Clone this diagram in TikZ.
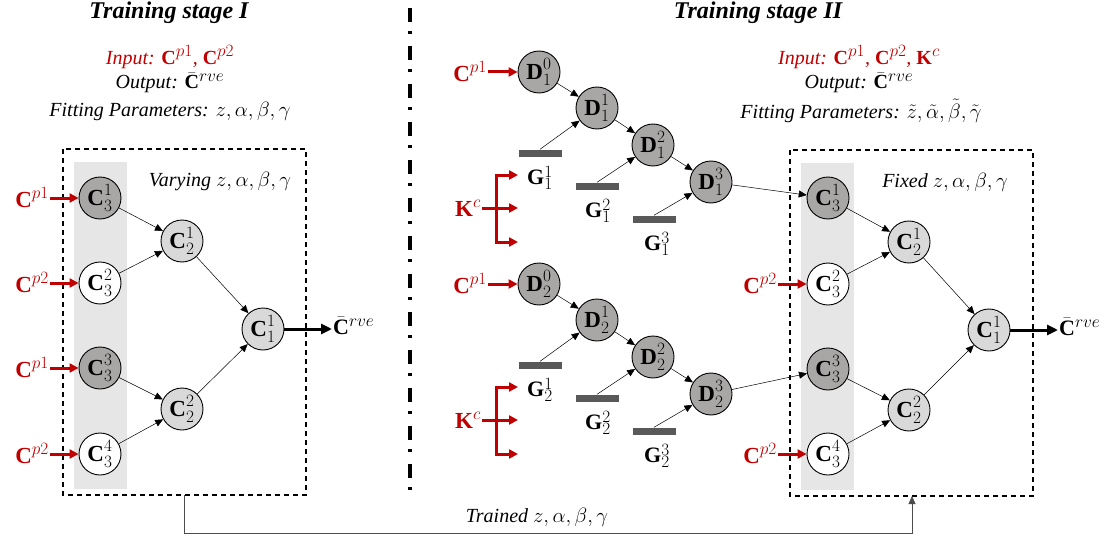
\documentclass[tikz,border=0pt]{standalone}
\usepackage{fontspec}
\setmainfont{Liberation Serif}
\usetikzlibrary{arrows.meta}
\DeclareMathSizes{20}{20}{16}{12}
\DeclareMathSizes{22}{22}{17.5}{13}
\DeclareMathSizes{23}{23}{18}{14}
\DeclareMathSizes{24}{24}{19}{14}
\definecolor{myred}{HTML}{C00000}
\definecolor{dgray}{HTML}{A9A6A6}
\definecolor{lgray}{HTML}{D9D9D9}
\definecolor{colgray}{HTML}{E6E6E6}
\definecolor{bargray}{HTML}{595959}
\begin{document}
\begin{tikzpicture}[x=1pt,y=-1pt,
  nd/.style={circle,draw=black,line width=0.9pt,minimum size=42pt,inner sep=0pt,font=\fontsize{23}{23}\selectfont},
  dk/.style={nd,fill=dgray},
  lt/.style={nd,fill=lgray},
  wt/.style={nd,fill=white},
  con/.style={-{Triangle[length=8pt,width=7pt]},line width=0.5pt},
  redarr/.style={-{Triangle[length=9pt,width=9pt]},line width=3pt,myred},
  outarr/.style={-{Triangle[length=11pt,width=10pt]},line width=3pt},
  redlab/.style={text=myred,font=\fontsize{23}{23}\selectfont,inner sep=1pt},
  blab/.style={font=\fontsize{22}{22}\selectfont,inner sep=1pt},
  bar/.style={fill=bargray,minimum width=43pt,minimum height=7pt,inner sep=0pt},
  hdr/.style={font=\fontsize{24}{24}\selectfont\bfseries\itshape},
  info/.style={font=\fontsize{20}{20}\selectfont\itshape,inner sep=1pt},
  boxd/.style={dashed,line width=1.1pt,dash pattern=on 5pt off 4pt}
]
\useasboundingbox (0,0) rectangle (1117,543);

% titles
\node[hdr] (t1) at (169,13) {Training stage I};
\node[hdr] (t2) at (758,13) {Training stage II};
\draw[line width=3.5pt,dash pattern=on 14pt off 9pt on 3pt off 12pt] (410,8) -- (410,495);

% info texts
\node[info,text=myred] (in1) at (170,57) {Input: $\mathbf{C}^{p1}$, $\mathbf{C}^{p2}$};
\node[info] (out1) at (170,83) {Output: $\bar{\mathbf{C}}^{rve}$};
\node[info] (fp1) at (170,111) {Fitting Parameters: $z,\alpha,\beta,\gamma$};
\node[info,text=myred] (in2) at (859,57) {Input: $\mathbf{C}^{p1}$, $\mathbf{C}^{p2}$, $\mathbf{K}^{c}$};
\node[info] (out2) at (859,83) {Output: $\bar{\mathbf{C}}^{rve}$};
\node[info] (fp2) at (861,111) {Fitting Parameters: $\tilde{z},\tilde{\alpha},\tilde{\beta},\tilde{\gamma}$};

% ===== Stage I =====
\fill[colgray] (74,162) rectangle (127,489);
\draw[boxd] (63,149) rectangle (306,495);
\coordinate (b1) at (184,495);
\node[info] (vary) at (220,181) {Varying $z,\alpha,\beta,\gamma$};

\node[dk] (a31) at (100,198) {$\mathbf{C}_3^1$};
\node[wt] (a32) at (100,283) {$\mathbf{C}_3^2$};
\node[dk] (a33) at (100,368) {$\mathbf{C}_3^3$};
\node[wt] (a34) at (100,454) {$\mathbf{C}_3^4$};
\node[lt] (a21) at (182,241) {$\mathbf{C}_2^1$};
\node[lt] (a22) at (182,409) {$\mathbf{C}_2^2$};
\node[lt] (a11) at (263,329) {$\mathbf{C}_1^1$};

\draw[con] (a31) -- (a21);
\draw[con] (a32) -- (a21);
\draw[con] (a33) -- (a22);
\draw[con] (a34) -- (a22);
\draw[con] (a21) -- (a11);
\draw[con] (a22) -- (a11);

\node[redlab,anchor=east] (ia1) at (50,198) {$\mathbf{C}^{p1}$};
\node[redlab,anchor=east] (ia2) at (50,283) {$\mathbf{C}^{p2}$};
\node[redlab,anchor=east] (ia3) at (50,368) {$\mathbf{C}^{p1}$};
\node[redlab,anchor=east] (ia4) at (50,454) {$\mathbf{C}^{p2}$};
\draw[redarr] (ia1) -- (a31);
\draw[redarr] (ia2) -- (a32);
\draw[redarr] (ia3) -- (a33);
\draw[redarr] (ia4) -- (a34);

\node[blab,anchor=west] (o1) at (332,326) {$\bar{\mathbf{C}}^{rve}$};
\draw[outarr] (a11) -- (o1.west|-a11);

% ===== Stage II chains =====
\foreach \k/\yo in {1/0,2/212}{
  \node[dk] (d\k0) at (539,72+\yo) {$\mathbf{D}_\k^0$};
  \node[dk] (d\k1) at (597,108+\yo) {$\mathbf{D}_\k^1$};
  \node[dk] (d\k2) at (653,145+\yo) {$\mathbf{D}_\k^2$};
  \node[dk] (d\k3) at (711,182+\yo) {$\mathbf{D}_\k^3$};
  \node[bar] (g\k1) at (540,153+\yo) {};
  \node[bar] (g\k2) at (597,186+\yo) {};
  \node[bar] (g\k3) at (654,219+\yo) {};
  \node[blab] (gl\k1) at (540,178+\yo) {$\mathbf{G}_\k^1$};
  \node[blab] (gl\k2) at (598,211+\yo) {$\mathbf{G}_\k^2$};
  \node[blab] (gl\k3) at (657,244+\yo) {$\mathbf{G}_\k^3$};
  \draw[con] (d\k0) -- (d\k1);
  \draw[con] (d\k1) -- (d\k2);
  \draw[con] (d\k2) -- (d\k3);
  \draw[con] (g\k1.north) -- (d\k1);
  \draw[con] (g\k2.north) -- (d\k2);
  \draw[con] (g\k3.north) -- (d\k3);
  \node[redlab,anchor=east] (cp\k) at (488,72+\yo) {$\mathbf{C}^{p1}$};
  \draw[redarr] (cp\k) -- (d\k0);
  \node[redlab,anchor=east] (k\k) at (482,208+\yo) {$\mathbf{K}^{c}$};
  \coordinate (kt\k) at (518,175+\yo);
  \coordinate (km\k) at (518,208+\yo);
  \coordinate (kb\k) at (518,242+\yo);
  \draw[myred,line width=3pt] (k\k.east) -- (496,208+\yo);
  \draw[redarr] (496,175+\yo) -- (kt\k);
  \draw[redarr] (496,208+\yo) -- (km\k);
  \draw[redarr] (496,242+\yo) -- (kb\k);
  \draw[myred,line width=3pt] (496,173.5+\yo) -- (496,243.5+\yo);
}

% ===== Stage II network =====
\fill[colgray] (801,163) rectangle (854,490);
\draw[boxd] (790,150) rectangle (1033,496);
\coordinate (b2) at (912,496);
\node[info] (fix) at (945,182) {Fixed $z,\alpha,\beta,\gamma$};

\node[dk] (c31) at (828,198) {$\mathbf{C}_3^1$};
\node[wt] (c32) at (828,284) {$\mathbf{C}_3^2$};
\node[dk] (c33) at (828,369) {$\mathbf{C}_3^3$};
\node[wt] (c34) at (828,454) {$\mathbf{C}_3^4$};
\node[lt] (c21) at (909,242) {$\mathbf{C}_2^1$};
\node[lt] (c22) at (909,410) {$\mathbf{C}_2^2$};
\node[lt] (c11) at (989,330) {$\mathbf{C}_1^1$};

\draw[con] (c31) -- (c21);
\draw[con] (c32) -- (c21);
\draw[con] (c33) -- (c22);
\draw[con] (c34) -- (c22);
\draw[con] (c21) -- (c11);
\draw[con] (c22) -- (c11);

\draw[con] (d13) -- (c31);
\draw[con] (d23) -- (c33);

\node[redlab,anchor=east] (ib2) at (778,284) {$\mathbf{C}^{p2}$};
\node[redlab,anchor=east] (ib4) at (778,454) {$\mathbf{C}^{p2}$};
\draw[redarr] (ib2) -- (c32);
\draw[redarr] (ib4) -- (c34);

\node[blab,anchor=west] (o2) at (1058,327) {$\bar{\mathbf{C}}^{rve}$};
\draw[outarr] (c11) -- (o2.west|-c11);

% trained connector
\coordinate (bc) at (184,533);
\draw[con,draw=black!70] (b1) -- (bc) -| (b2);
\node[info] (trained) at (537,517) {Trained $z,\alpha,\beta,\gamma$};
\end{tikzpicture}
\end{document}
